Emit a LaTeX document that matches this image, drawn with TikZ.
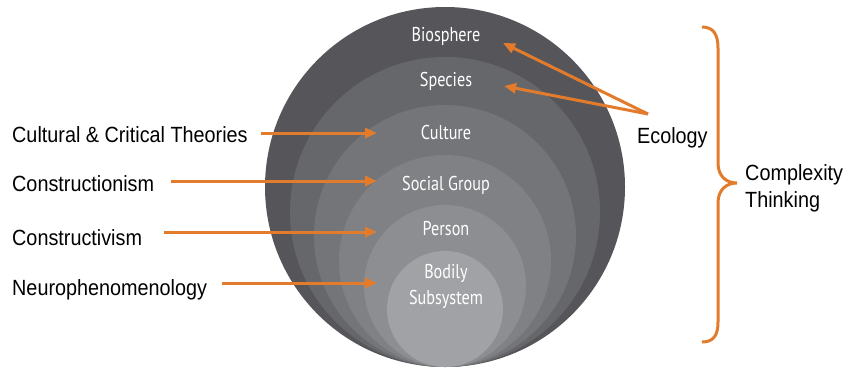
\documentclass[tikz,border=0pt]{standalone}
\usepackage{fontspec}
\usepackage{xcolor}
\usetikzlibrary{arrows.meta}

\newfontfamily\sidefont[FakeStretch=0.9]{Liberation Sans}
\newfontfamily\ringfont[FakeStretch=0.81]{PT Sans}

\definecolor{arrorange}{RGB}{226,124,44}
\definecolor{ringA}{HTML}{56565A}
\definecolor{ringB}{HTML}{66676A}
\definecolor{ringC}{HTML}{737578}
\definecolor{ringD}{HTML}{7F8184}
\definecolor{ringE}{HTML}{8C8E91}
\definecolor{ringF}{HTML}{A0A2A5}

\tikzset{
  orarrow/.style={draw=arrorange, line width=3pt, -{Triangle[length=12pt,width=10pt]}},
  sidelabel/.style={anchor=base west, inner sep=0pt, font=\sidefont\fontsize{22}{27}\selectfont},
  ringlabel/.style={anchor=base, inner sep=0pt, text=white, font=\ringfont\fontsize{20}{26}\selectfont},
}

\begin{document}
\begin{tikzpicture}[x=1pt,y=-1pt]
                \useasboundingbox (0,0) rectangle (846,369);
                % nested spheres, all touching at the bottom
                \foreach \r/\c in {180/ringA,155/ringB,131/ringC,106/ringD,81/ringE,58/ringF}
                    \fill[\c] (445,367-\r) circle (\r pt);
                \node[ringlabel] (bio) at (446,42) {Biosphere};
                \node[ringlabel] (spec) at (446,87) {Species};
                \node[ringlabel] (cult) at (446,139) {Culture};
                \node[ringlabel] (soc) at (446,190) {Social Group};
                \node[ringlabel] (pers) at (446,235) {Person};
                \node[ringlabel, anchor=center, align=center] (body) at (446,286) {Bodily\\Subsystem};
                % theories on the left
                \node[sidelabel] (lcult) at (12,142) {Cultural \& Critical Theories};
                \node[sidelabel] (lcon) at (12,191) {Constructionism};
                \node[sidelabel] (lcv) at (12,245) {Constructivism};
                \node[sidelabel] (lneuro) at (12,295) {Neurophenomenology};
                \coordinate (tcult) at (377,133);
                \coordinate (tcon) at (377,181);
                \coordinate (tcv) at (377,232);
                \coordinate (tneuro) at (377,283);
                \draw[orarrow, shorten <=13pt] (lcult.east |- tcult) -- (tcult);
                \draw[orarrow, shorten <=17pt] (lcon.east |- tcon) -- (tcon);
                \draw[orarrow, shorten <=22pt] (lcv.east |- tcv) -- (tcv);
                \draw[orarrow, shorten <=15pt] (lneuro.east |- tneuro) -- (tneuro);
                % ecology on the right
                \node[sidelabel] (eco) at (637,143) {Ecology};
                \coordinate (efork) at (648,114);
                \coordinate (tbio) at (503,43);
                \coordinate (tspec) at (504,86);
                \draw[orarrow] (efork) -- (tbio);
                \draw[orarrow] (efork) -- (tspec);
                % brace
                \draw[arrorange, line width=3pt] (702,27) .. controls (713,27) and (718,34) .. (718,48)
                    -- (718,163) .. controls (718,176) and (726,183) .. (737,183)
                    .. controls (726,183) and (718,190) .. (718,203)
                    -- (718,322) .. controls (718,336) and (713,342) .. (702,342);
                \node[sidelabel, anchor=west, align=left] (cplx) at (745,188) {Complexity\\Thinking};
            \end{tikzpicture}
\end{document}
